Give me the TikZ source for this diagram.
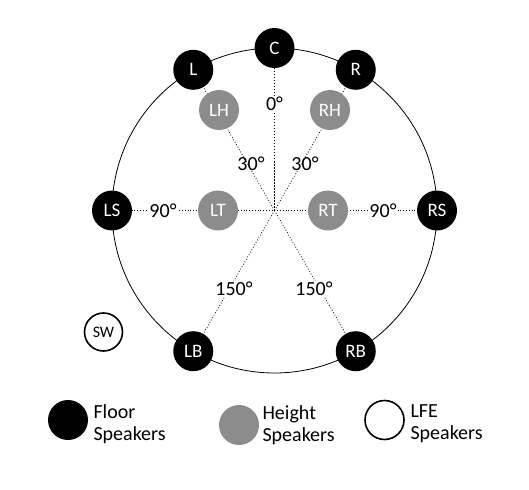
\documentclass[tikz,border=0pt]{standalone}
\usepackage{fontspec}
\setmainfont{Carlito}
\begin{document}
\begin{tikzpicture}[x=1pt,y=-1pt,
  floor/.style={circle,fill=black,text=white,minimum size=40pt,inner sep=0pt,font=\fontsize{19}{19}\selectfont},
  height/.style={circle,fill=black!45,text=white,minimum size=40pt,inner sep=0pt,font=\fontsize{19}{19}\selectfont},
  lfe/.style={circle,draw=black,line width=1.6pt,fill=white,minimum size=38pt,inner sep=0pt,font=\fontsize{16}{16}\selectfont},
  ang/.style={fill=white,inner sep=1pt,font=\fontsize{20}{20}\selectfont},
  guide/.style={dotted,line width=0.8pt},
  leg/.style={align=left,anchor=west,font=\fontsize{20}{22}\selectfont}]
\useasboundingbox (0,0) rectangle (529,489);
\coordinate (O) at (274.5,210.5);
\draw[line width=0.8pt] (O) circle (162.5);
% floor speakers positions
\coordinate (pC) at (274.5,48);
\coordinate (pL) at (193.25,69.8);
\coordinate (pR) at (355.75,69.8);
\coordinate (pLS) at (112,210.5);
\coordinate (pRS) at (437,210.5);
\coordinate (pLB) at (193.25,351.2);
\coordinate (pRB) at (355.75,351.2);
% guide lines
\draw[dashed,dash pattern=on 1.5pt off 1.5pt,line width=0.9pt] (O) -- (pC);
\draw[guide] (O) -- (pL);
\draw[guide] (O) -- (pR);
\draw[guide] (pLS) -- (pRS);
\draw[guide] (O) -- (pLB);
\draw[guide] (O) -- (pRB);
% speakers
\node[floor] (C) at (pC) {C};
\node[floor] (L) at (pL) {L};
\node[floor] (R) at (pR) {R};
\node[floor] (LS) at (pLS) {LS};
\node[floor] (RS) at (pRS) {RS};
\node[floor] (LB) at (pLB) {LB};
\node[floor] (RB) at (pRB) {RB};
\node[height] (LH) at (219,110) {LH};
\node[height] (RH) at (330,110) {RH};
\node[height] (LT) at (218,210.5) {LT};
\node[height] (RT) at (328,210.5) {RT};
\node[lfe] (SW) at (103.5,332) {SW};
% angle labels
\node[ang] (a0) at (274.5,104) {0°};
\node[ang,fill=none] (a30l) at (251,164) {30°};
\node[ang,fill=none] (a30r) at (305,164) {30°};
\node[ang] (a90l) at (163,210.5) {90°};
\node[ang] (a90r) at (383,210.5) {90°};
\node[ang] (a150l) at (234,289) {150°};
\node[ang] (a150r) at (314,289) {150°};
% legend
\node[floor,font=\normalsize] (kF) at (68,420) {};
\node[height,font=\normalsize] (kH) at (239,425) {};
\node[lfe,minimum size=39pt] (kL) at (384.5,420) {};
\node[leg] (tF) at (90,424) {Floor\\Speakers};
\node[leg] (tH) at (259,425) {Height\\Speakers};
\node[leg] (tL) at (407,424) {LFE\\Speakers};
\end{tikzpicture}
\end{document}
